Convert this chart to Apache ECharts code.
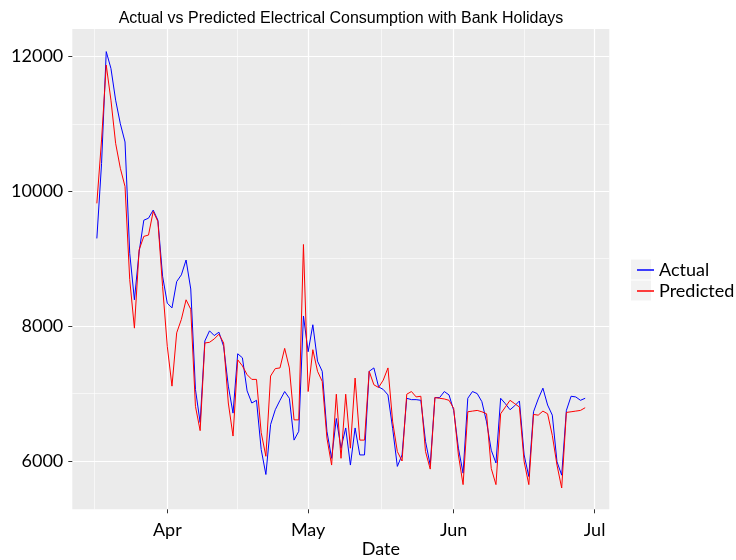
<!DOCTYPE html>
<html><head><meta charset="utf-8">
<script src="https://cdn.jsdelivr.net/npm/echarts@6/dist/echarts.min.js"></script>
<style>html,body{margin:0;padding:0;background:#fff}#c{width:736px;height:560px}</style>
</head><body><div id="c"></div>
<script>
const startDate = '2018-03-17';
const actual = [
  9300, 10410, 12070, 11820, 11350, 11000, 10730, 9080, 8390, 9100,
  9570, 9600, 9720, 9570, 8740, 8340, 8270, 8660, 8760, 8980,
  8550, 7060, 6570, 7780, 7930, 7860, 7910, 7700, 7110, 6710,
  7590, 7530, 7040, 6860, 6900, 6170, 5800, 6540, 6760, 6900,
  7030, 6930, 6310, 6440, 8150, 7620, 8020, 7480, 7330, 6440,
  6040, 6630, 6190, 6490, 5940, 6490, 6090, 6090, 7330, 7380,
  7100, 7060, 6980, 6480, 5920, 6090, 6930, 6910, 6910, 6900,
  6290, 5940, 6940, 6940, 7030, 6980, 6750, 6190, 5820, 6930,
  7030, 7000, 6880, 6580, 6160, 5970, 6930, 6850, 6760, 6820,
  6890, 6090, 5770, 6730, 6920, 7080, 6830, 6680, 5990, 5790,
  6750, 6960, 6950, 6900, 6930
];
const predicted = [
  9820, 10760, 11870, 11350, 10710, 10340, 10070, 8690, 7970, 9130,
  9330, 9350, 9700, 9550, 8590, 7700, 7110, 7900, 8100, 8390,
  8250, 6810, 6450, 7750, 7760, 7810, 7880, 7750, 6860, 6370,
  7500, 7410, 7280, 7210, 7210, 6420, 6070, 7260, 7370, 7380,
  7670, 7380, 6610, 6610, 9210, 7030, 7650, 7330, 7180, 6340,
  5940, 6990, 6040, 6990, 6190, 7230, 6310, 6310, 7330, 7130,
  7090, 7200, 7380, 6580, 6140, 6000, 6990, 7030, 6950, 6960,
  6140, 5880, 6940, 6930, 6920, 6900, 6780, 6090, 5650, 6730,
  6740, 6750, 6730, 6700, 5890, 5650, 6700, 6800, 6900, 6850,
  6800, 5990, 5650, 6690, 6680, 6740, 6700, 6380, 5940, 5600,
  6720, 6730, 6740, 6750, 6790
];
const monthStarts = ['2018-03-01', '2018-04-01', '2018-05-01', '2018-06-01', '2018-07-01'];
const monthLabels = ['Mar', 'Apr', 'May', 'Jun', 'Jul'];
const yMajor = [6000, 8000, 10000, 12000];
const yMinor = [7000, 9000, 11000];
const seriesNames = ['Actual', 'Predicted'];
const seriesColors = ['#0000ff', '#ff0000'];

const DAY = 86400000;
const origin = Date.parse('2018-04-01T00:00:00Z');
function dayOf(s) { return (Date.parse(s + 'T00:00:00Z') - origin) / DAY; }
const startDay = dayOf(startDate);
const xs = actual.map((_, i) => startDay + i);
const majorX = monthStarts.map(dayOf);
const minorX = majorX.slice(0, -1).map((v, i) => (v + majorX[i + 1]) / 2);
const xMin = -20.23, xMax = 94.14;
const yMin = 5284, yMax = 12405;
const FONT = 'Lato';

const chart = echarts.init(document.getElementById('c'), null, { renderer: 'canvas' });
const gridLineMajor = { show: true, lineStyle: { color: '#ffffff', width: 1.2 } };
const gridLineMinor = { show: true, lineStyle: { color: '#ffffff', width: 0.6 } };

chart.setOption({
  animation: false,
  backgroundColor: '#ffffff',
  title: {
    text: 'Actual vs Predicted Electrical Consumption with Bank Holidays',
    left: 336, top: 6, textAlign: 'center',
    textStyle: { fontFamily: 'Liberation Sans', fontSize: 16, fontWeight: 'normal', color: '#000' }
  },
  legend: {
    data: seriesNames, orient: 'vertical', left: 632, top: 256,
    icon: 'rect', itemWidth: 17, itemHeight: 1.5, itemGap: 3, itemTextGap: 5,
    textStyle: { fontFamily: FONT, fontSize: 18, lineHeight: 18, color: '#000' }
  },
  graphic: [
    { type: 'rect', z: -1, shape: { x: 631, y: 259.5, width: 20, height: 20 }, style: { fill: '#f2f2f2' } },
    { type: 'rect', z: -1, shape: { x: 631, y: 280.5, width: 20, height: 20 }, style: { fill: '#f2f2f2' } }
  ],
  grid: { left: 72.3, right: 126.7, top: 29, bottom: 50.7, show: true, backgroundColor: '#ebebeb', borderWidth: 0,
    containLabel: false, outerBoundsMode: 'none' },
  xAxis: [
    {
      type: 'value', min: xMin, max: xMax, gridIndex: 0,
      name: 'Date', nameLocation: 'middle', nameGap: 31, nameMoveOverlap: false,
      nameTextStyle: { fontFamily: FONT, fontSize: 18, color: '#000', padding: [0, 0, 0, 80] },
      axisLine: { show: false, onZero: false },
      axisTick: { show: true, length: 4, customValues: majorX, lineStyle: { color: '#333', width: 1 } },
      axisLabel: {
        customValues: majorX, margin: 12, fontFamily: FONT, fontSize: 18, color: '#000',
        formatter: v => { const k = majorX.indexOf(v); return k >= 0 ? monthLabels[k] : ''; }
      },
      splitLine: gridLineMajor
    },
    {
      type: 'value', min: xMin, max: xMax, gridIndex: 0, position: 'bottom',
      axisLine: { show: false, onZero: false },
      axisTick: { show: false, customValues: minorX },
      axisLabel: { show: false, customValues: minorX },
      splitLine: gridLineMinor
    }
  ],
  yAxis: [
    {
      type: 'value', min: yMin, max: yMax, gridIndex: 0, position: 'left',
      axisLine: { show: false, onZero: false },
      axisTick: { show: true, length: 4, customValues: yMajor, lineStyle: { color: '#333', width: 1 } },
      axisLabel: { customValues: yMajor, margin: 9, fontFamily: FONT, fontSize: 18, color: '#000',
        formatter: v => String(v) },
      splitLine: gridLineMajor
    },
    {
      type: 'value', min: yMin, max: yMax, gridIndex: 0, position: 'left',
      axisLine: { show: false, onZero: false },
      axisTick: { show: false, customValues: yMinor },
      axisLabel: { show: false, customValues: yMinor },
      splitLine: gridLineMinor
    }
  ],
  series: seriesNames.map((name, k) => ({
    name, type: 'line', xAxisIndex: 0, yAxisIndex: 0,
    symbol: 'none', showSymbol: false, silent: true,
    color: seriesColors[k],
    lineStyle: { color: seriesColors[k], width: 1 },
    data: (k === 0 ? actual : predicted).map((v, i) => [xs[i], v])
  }))
});
</script>
</body></html>
